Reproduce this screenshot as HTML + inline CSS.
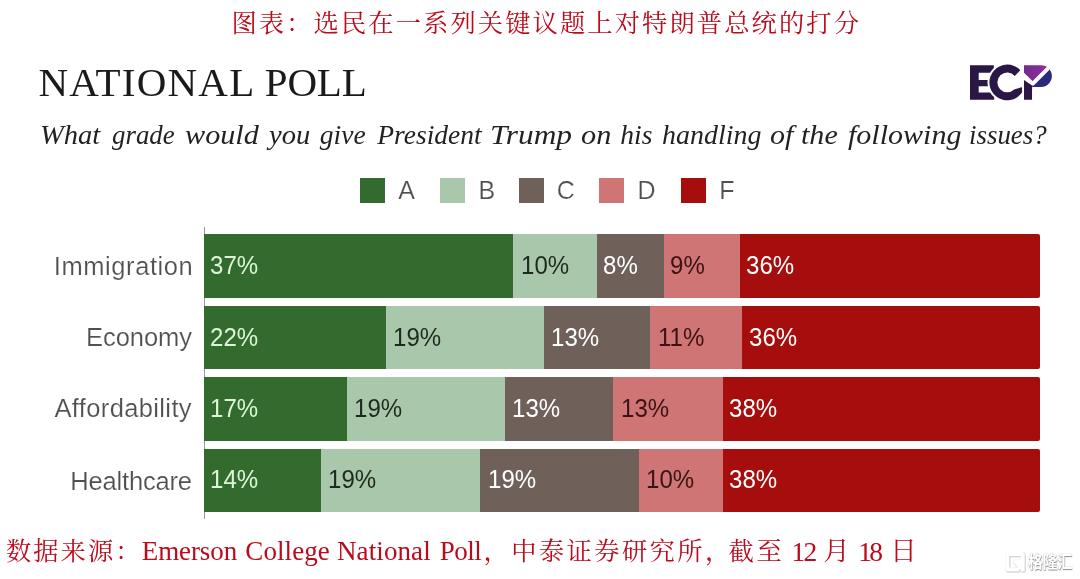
<!DOCTYPE html>
<html lang="zh"><head><meta charset="utf-8"><title>National Poll</title>
<style>
html,body{margin:0;padding:0;background:#fff;}
body{width:1080px;height:579px;position:relative;overflow:hidden;font-family:"Liberation Sans",sans-serif;}
.abs{position:absolute;white-space:nowrap;line-height:1;}
.cn{font-family:"Liberation Serif","Noto Serif CJK SC",serif;color:#bb0a1a;font-weight:400;}
.sb{transform-origin:0 0;top:120.5px;font-family:'Liberation Serif',serif;font-style:italic;font-size:27.5px;color:#222;}
.seg{position:absolute;}
.val{position:absolute;white-space:nowrap;font-size:26px;line-height:1;transform:scaleX(0.925);transform-origin:0 50%;}
.cat{position:absolute;white-space:nowrap;font-size:25.5px;line-height:1;color:#505050;-webkit-text-stroke:0.18px #fff;}
.lg{position:absolute;width:25px;height:25px;top:178.3px;}
.lt{position:absolute;font-size:25px;line-height:1;color:#505050;top:178px;-webkit-text-stroke:0.18px #fff;}
#wrap{position:absolute;left:0;top:0;width:1080px;height:579px;will-change:transform;}
</style></head><body><div id="wrap">

<div class="abs cn" style="left:231.4px;top:10.7px;font-size:25.3px;letter-spacing:2.08px;">图表：选民在一系列关键议题上对特朗普总统的打分</div>
<div class="abs" style="font-family:'Liberation Serif',serif;font-size:41px;color:#1a1a1a;top:62px;left:38.4px;letter-spacing:1.23px;">NATIONAL</div>
<div class="abs" style="font-family:'Liberation Serif',serif;font-size:41px;color:#1a1a1a;top:62px;left:264.8px;letter-spacing:-0.2px;">POLL</div>
<div id="sub">
<span class="abs sb" style="left:40.2px;transform:scaleX(1.039);">What</span>
<span class="abs sb" style="left:112.3px;transform:scaleX(0.977);">grade</span>
<span class="abs sb" style="left:184.9px;transform:scaleX(1.098);">would</span>
<span class="abs sb" style="left:269.4px;transform:scaleX(1.037);">you</span>
<span class="abs sb" style="left:319.8px;transform:scaleX(1.0);">give</span>
<span class="abs sb" style="left:377.3px;transform:scaleX(1.0);">President</span>
<span class="abs sb" style="left:490.2px;transform:scaleX(1.142);">Trump</span>
<span class="abs sb" style="left:581.4px;transform:scaleX(1.1);">on</span>
<span class="abs sb" style="left:620.3px;transform:scaleX(1.0);">his</span>
<span class="abs sb" style="left:661.5px;transform:scaleX(1.016);">handling</span>
<span class="abs sb" style="left:770.2px;transform:scaleX(1.092);">of</span>
<span class="abs sb" style="left:801.4px;transform:scaleX(1.094);">the</span>
<span class="abs sb" style="left:847.5px;transform:scaleX(1.092);">following</span>
<span class="abs sb" style="left:969.0px;transform:scaleX(0.978);">issues?</span>
</div>
<svg style="position:absolute;left:960px;top:55px;" width="100" height="55" viewBox="960 55 100 55">
<defs>
<clipPath id="pclip"><path d="M1024 65.2 H1041 A10.9 10.9 0 0 1 1041 87 H1032.1 V99.8 H1024 Z"/></clipPath>
<linearGradient id="mg" x1="0" y1="0" x2="1" y2="0"><stop offset="0" stop-color="#6a2a8c"/><stop offset="1" stop-color="#a02fa0"/></linearGradient>
</defs>
<path d="M970 65.2 H993.8 V72.8 H978.7 V80 H988 V86.3 H978.7 V92.5 H994.2 V99.8 H970 Z" fill="#2b1746"/>
<path d="M1020.28 70.13 A17.9 17.9 0 1 0 1022.20 92.37 L1022.2 87.6 L1021.3 87.2 L1014.18 89.57 A9.9 9.9 0 1 1 1014.77 75.96 Z" fill="#ffffff" stroke="#ffffff" stroke-width="3.8" stroke-linejoin="round"/>
<path d="M1020.28 70.13 A17.9 17.9 0 1 0 1022.20 92.37 L1022.2 87.6 L1021.3 87.2 L1014.18 89.57 A9.9 9.9 0 1 1 1014.77 75.96 Z" fill="#2b1746"/>
<path d="M1024 65.2 H1041 A10.9 10.9 0 0 1 1041 87 H1032.1 V99.8 H1024 Z" fill="#ffffff" stroke="#ffffff" stroke-width="3.6"/>
<g clip-path="url(#pclip)">
<polygon points="1018,58 1058.1,58 1032.6,83.5 1018,68.9" fill="url(#mg)"/>
<polygon points="1058.1,58 1066,58 1066,90 1032.1,90 1032.1,84" fill="#2d2a7e"/>
<polygon points="1024,80.1 1032.1,85.5 1032.1,100 1024,100" fill="#2b1746"/>
<polyline points="1019.1,70 1032.6,83.5 1057.1,59" fill="none" stroke="#ffffff" stroke-width="3.2" stroke-linejoin="miter"/><line x1="1032.2" y1="84.6" x2="1057.6" y2="59.2" stroke="#ffffff" stroke-width="3.6"/>
</g>
</svg>
<div class="lg" style="left:360.2px;background:#336b2f;"></div><div class="lt" style="left:398.3px;">A</div>
<div class="lg" style="left:440.0px;background:#a9c8ab;"></div><div class="lt" style="left:478.6px;">B</div>
<div class="lg" style="left:518.7px;background:#6f615a;"></div><div class="lt" style="left:556.7px;">C</div>
<div class="lg" style="left:598.8px;background:#d07575;"></div><div class="lt" style="left:637.4px;">D</div>
<div class="lg" style="left:680.5px;background:#a50e0c;"></div><div class="lt" style="left:719.2px;">F</div>
<div style="position:absolute;left:203.5px;top:226.5px;width:1px;height:292.5px;background:#9a9a9a;"></div>
<div class="cat" style="left:53.8px;letter-spacing:0.58px;top:254.3px;">Immigration</div>
<div class="seg" style="left:204.0px;top:234.2px;width:309.6px;height:63.5px;background:#336b2f;"></div>
<div class="val" style="left:209.8px;top:252.1px;color:#dcf5d8;">37%</div>
<div class="seg" style="left:513.3px;top:234.2px;width:84.0px;height:63.5px;background:#a9c8ab;"></div>
<div class="val" style="left:520.6px;top:252.1px;color:#1f2a1f;">10%</div>
<div class="seg" style="left:597.0px;top:234.2px;width:67.1px;height:63.5px;background:#6f615a;"></div>
<div class="val" style="left:603.1px;top:252.1px;color:#ffffff;">8%</div>
<div class="seg" style="left:663.8px;top:234.2px;width:76.3px;height:63.5px;background:#d07575;"></div>
<div class="val" style="left:669.9px;top:252.1px;color:#3a1414;">9%</div>
<div class="seg" style="left:739.8px;top:234.2px;width:300.6px;height:63.5px;background:#a50e0c;border-radius:0 2px 2px 0;"></div>
<div class="val" style="left:745.9px;top:252.1px;color:#ffffff;">36%</div>
<div class="cat" style="left:86.0px;letter-spacing:-0.05px;top:324.5px;">Economy</div>
<div class="seg" style="left:204.0px;top:305.6px;width:182.3px;height:63.5px;background:#336b2f;"></div>
<div class="val" style="left:209.8px;top:323.6px;color:#dcf5d8;">22%</div>
<div class="seg" style="left:386.0px;top:305.6px;width:158.0px;height:63.5px;background:#a9c8ab;"></div>
<div class="val" style="left:393.3px;top:323.6px;color:#1f2a1f;">19%</div>
<div class="seg" style="left:543.7px;top:305.6px;width:107.0px;height:63.5px;background:#6f615a;"></div>
<div class="val" style="left:551.0px;top:323.6px;color:#ffffff;">13%</div>
<div class="seg" style="left:650.4px;top:305.6px;width:92.3px;height:63.5px;background:#d07575;"></div>
<div class="val" style="left:657.7px;top:323.6px;color:#3a1414;">11%</div>
<div class="seg" style="left:742.4px;top:305.6px;width:298.0px;height:63.5px;background:#a50e0c;border-radius:0 2px 2px 0;"></div>
<div class="val" style="left:748.5px;top:323.6px;color:#ffffff;">36%</div>
<div class="cat" style="left:54.4px;letter-spacing:0.37px;top:396.1px;">Affordability</div>
<div class="seg" style="left:204.0px;top:377.2px;width:142.8px;height:63.5px;background:#336b2f;"></div>
<div class="val" style="left:209.8px;top:395.1px;color:#dcf5d8;">17%</div>
<div class="seg" style="left:346.5px;top:377.2px;width:158.8px;height:63.5px;background:#a9c8ab;"></div>
<div class="val" style="left:353.8px;top:395.1px;color:#1f2a1f;">19%</div>
<div class="seg" style="left:505.0px;top:377.2px;width:108.7px;height:63.5px;background:#6f615a;"></div>
<div class="val" style="left:512.3px;top:395.1px;color:#ffffff;">13%</div>
<div class="seg" style="left:613.4px;top:377.2px;width:109.8px;height:63.5px;background:#d07575;"></div>
<div class="val" style="left:620.7px;top:395.1px;color:#3a1414;">13%</div>
<div class="seg" style="left:722.9px;top:377.2px;width:317.5px;height:63.5px;background:#a50e0c;border-radius:0 2px 2px 0;"></div>
<div class="val" style="left:729.0px;top:395.1px;color:#ffffff;">38%</div>
<div class="cat" style="left:70.3px;letter-spacing:-0.18px;top:469.4px;">Healthcare</div>
<div class="seg" style="left:204.0px;top:448.5px;width:117.1px;height:63.5px;background:#336b2f;"></div>
<div class="val" style="left:209.8px;top:465.9px;color:#dcf5d8;">14%</div>
<div class="seg" style="left:320.8px;top:448.5px;width:159.8px;height:63.5px;background:#a9c8ab;"></div>
<div class="val" style="left:328.1px;top:465.9px;color:#1f2a1f;">19%</div>
<div class="seg" style="left:480.3px;top:448.5px;width:158.8px;height:63.5px;background:#6f615a;"></div>
<div class="val" style="left:487.6px;top:465.9px;color:#ffffff;">19%</div>
<div class="seg" style="left:638.8px;top:448.5px;width:84.4px;height:63.5px;background:#d07575;"></div>
<div class="val" style="left:646.1px;top:465.9px;color:#3a1414;">10%</div>
<div class="seg" style="left:722.9px;top:448.5px;width:317.5px;height:63.5px;background:#a50e0c;border-radius:0 2px 2px 0;"></div>
<div class="val" style="left:729.0px;top:465.9px;color:#ffffff;">38%</div>
<div id="src">
<span class="abs cn" style="left:6.0px;top:539.3px;font-size:25.3px;letter-spacing:2.01px;">数据来源：</span>
<span class="abs cn" style="left:141.8px;top:537.5px;font-size:27px;letter-spacing:-0.1px;">Emerson</span>
<span class="abs cn" style="left:245.3px;top:537.5px;font-size:27px;letter-spacing:0.08px;">College</span>
<span class="abs cn" style="left:337.0px;top:537.5px;font-size:27px;letter-spacing:0.1px;">National</span>
<span class="abs cn" style="left:439.8px;top:537.5px;font-size:27px;letter-spacing:-0.56px;">Poll</span>
<span class="abs cn" style="left:483.5px;top:539.3px;font-size:25.3px;letter-spacing:2.38px;">，中泰证券研究所，</span>
<span class="abs cn" style="left:728.6px;top:539.3px;font-size:25.3px;letter-spacing:2.6px;">截至</span>
<span class="abs cn" style="left:791.4px;top:537.5px;font-size:27.5px;letter-spacing:-1.69px;">12</span>
<span class="abs cn" style="left:823.2px;top:538.3px;font-size:26.5px;letter-spacing:0px;">月</span>
<span class="abs cn" style="left:858.2px;top:537.5px;font-size:27.5px;letter-spacing:-2.8px;">18</span>
<span class="abs cn" style="left:890.2px;top:538.3px;font-size:26.5px;letter-spacing:0px;">日</span>
</div>
<div class="abs" id="wm" style="left:1028px;top:555.3px;font-family:'Liberation Sans','Noto Sans CJK SC',sans-serif;font-weight:bold;font-size:14.9px;transform:scale(1,1.12);transform-origin:0 0;color:#ffffff;text-shadow:0.4px 0.5px 0.9px rgba(110,110,110,0.75),0 0 1.3px rgba(130,130,130,0.6);letter-spacing:-0.2px;">格隆汇</div>
<svg style="position:absolute;left:1002px;top:549px;" width="26" height="26" viewBox="1002 549 26 26">
<defs><filter id="ws" x="-20%" y="-20%" width="150%" height="150%"><feDropShadow dx="0.4" dy="0.5" stdDeviation="0.6" flood-color="#6e6e6e" flood-opacity="0.8"/></filter></defs>
<g filter="url(#ws)" fill="#ffffff">
<path fill-rule="evenodd" d="M1008.4 552 H1021.6 Q1024.8 552 1024.8 555.2 V571.6 H1021.4 L1019.4 568.6 V571.6 H1008.4 Q1005.2 571.6 1005.2 568.4 V555.2 Q1005.2 552 1008.4 552 Z M1009.4 556.2 H1020.6 V559.8 H1013.4 V562.6 L1017.8 567.4 H1009.4 Z"/>
</g>
</svg>
</div></body></html>
